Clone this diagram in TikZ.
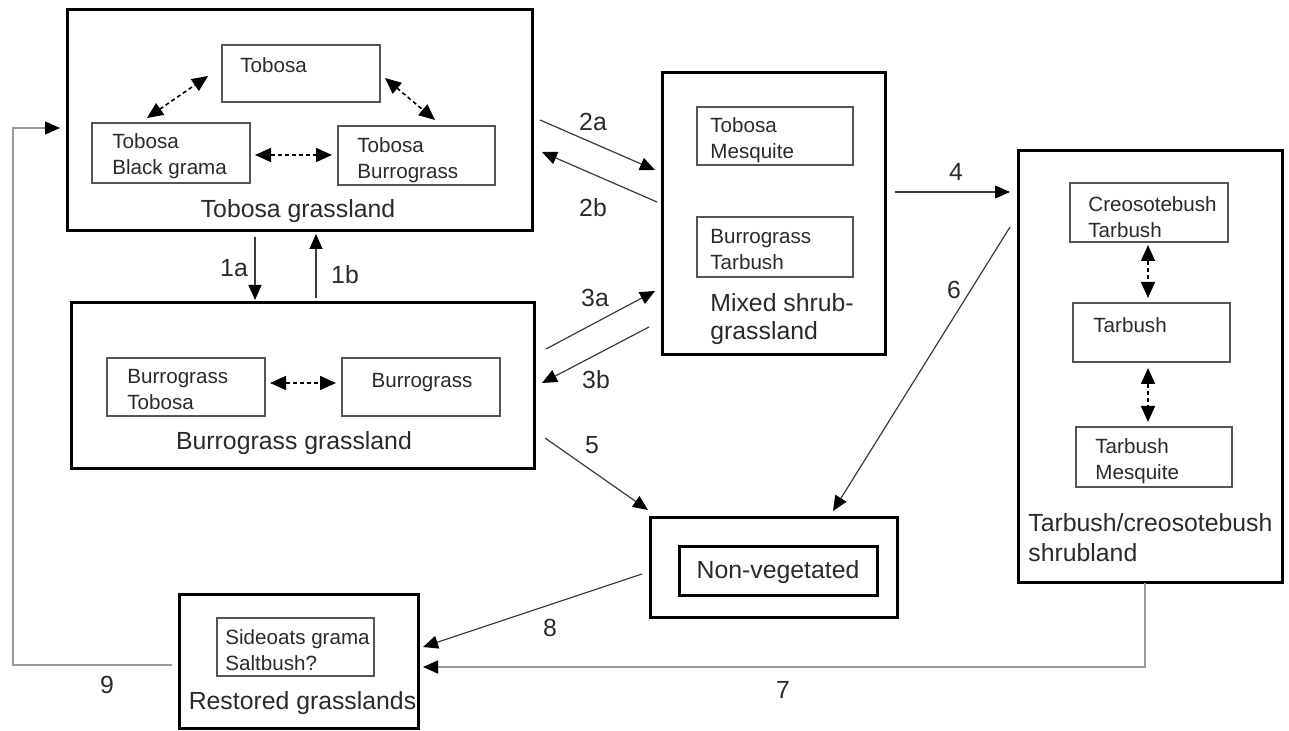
\documentclass[tikz,border=0pt]{standalone}
\usepackage{fontspec}
\setmainfont{Liberation Sans}
\usetikzlibrary{arrows.meta}
\definecolor{ink}{HTML}{2A2A2A}
\definecolor{boxgray}{HTML}{555555}
\definecolor{linegray}{HTML}{3A3A3A}
\definecolor{lightline}{HTML}{9A9A9A}
\tikzset{
  outerbox/.style 2 args={draw=black, line width=1.5pt, minimum width=#1*0.5pt, minimum height=#2*0.5pt, inner sep=0pt},
  innerbox/.style 2 args={draw=boxgray, line width=0.7pt, minimum width=#1*0.5pt, minimum height=#2*0.5pt, inner sep=0pt},
  bigtxt/.style={font=\fontsize{12.4}{14.5}\selectfont, text=ink, inner sep=0pt},
  smalltxt/.style={font=\fontsize{10.3}{13}\selectfont, text=ink, inner sep=0pt, align=left, anchor=west},
  numtxt/.style={font=\fontsize{12.4}{14.5}\selectfont, text=ink, inner sep=0pt},
  flow/.style={draw=linegray, line width=0.6pt, -{Triangle[length=7.5pt,width=6.5pt,color=black]}},
  grayflow/.style={draw=lightline, line width=0.8pt, -{Triangle[length=7.5pt,width=6.5pt,color=black]}},
  swap/.style={draw=black, line width=0.8pt, dash pattern=on 2pt off 1.5pt, {Triangle[length=8pt,width=7pt]}-{Triangle[length=8pt,width=7pt]}}
}
\begin{document}
\begin{tikzpicture}[x=0.5pt,y=-0.5pt]
\useasboundingbox (0,0) rectangle (1289,731);
% ---------- Tobosa grassland ----------
\node[outerbox={465}{221}] (tg) at (299.5,120.5) {};
\node[innerbox={158}{57}] (tob) at (301,73.5) {};
\node[innerbox={158}{60}] (tbg) at (171,153) {};
\node[innerbox={157}{59}] (tbu) at (416.5,155.5) {};
\node[smalltxt] (tobt) at (240,65) {Tobosa};
\node[smalltxt] (tbgt) at (112,156) {Tobosa\\Black grama};
\node[smalltxt] (tbut) at (357,160) {Tobosa\\Burrograss};
\node[bigtxt] (tgl) at (298,211) {Tobosa grassland};
\coordinate (d1a) at (147,118); \coordinate (d1b) at (208,76);
\coordinate (d2a) at (385,78);  \coordinate (d2b) at (435,120);
\coordinate (d3a) at (255,155); \coordinate (d3b) at (332,155);
\draw[swap] (d1a) -- (d1b);
\draw[swap] (d2a) -- (d2b);
\draw[swap] (d3a) -- (d3b);
% ---------- Burrograss grassland ----------
\node[outerbox={463}{166}] (bg) at (302.5,386) {};
\node[innerbox={158}{58}] (bt) at (186,387) {};
\node[innerbox={158}{58}] (bu) at (421,387) {};
\node[smalltxt] (btt) at (127,390) {Burrograss\\Tobosa};
\node[smalltxt, anchor=center] (but) at (422,383) {Burrograss};
\node[bigtxt] (bgl) at (294,443) {Burrograss grassland};
\coordinate (d4a) at (270,383); \coordinate (d4b) at (336,383);
\draw[swap] (d4a) -- (d4b);
% ---------- Mixed shrub-grassland ----------
\node[outerbox={223}{282}] (ms) at (773.5,214) {};
\node[innerbox={156}{58}] (tm) at (775,136) {};
\node[innerbox={156}{60}] (btb) at (775,247) {};
\node[smalltxt] (tmt) at (710,140) {Tobosa\\Mesquite};
\node[smalltxt] (btbt) at (710,250) {Burrograss\\Tarbush};
\node[bigtxt, align=left, anchor=west, font=\fontsize{12.4}{14}\selectfont] (msl) at (710,319) {Mixed shrub-\\grassland};
% ---------- Tarbush/creosotebush shrubland ----------
\node[outerbox={264}{431}] (ts) at (1150,366.5) {};
\node[innerbox={158}{59}] (ct) at (1149,212.5) {};
\node[innerbox={157}{59}] (ta) at (1151.5,332.5) {};
\node[innerbox={156}{60}] (tme) at (1154,457) {};
\node[smalltxt] (ctt) at (1088,217) {Creosotebush\\Tarbush};
\node[smalltxt] (tat) at (1093,325) {Tarbush};
\node[smalltxt] (tmet) at (1095,461) {Tarbush\\Mesquite};
\node[bigtxt, align=left, anchor=west, font=\fontsize{12.4}{15}\selectfont] (tsl) at (1028,538) {Tarbush/creosotebush\\shrubland};
\coordinate (d5a) at (1148,245); \coordinate (d5b) at (1148,298);
\coordinate (d6a) at (1148,368); \coordinate (d6b) at (1148,422);
\draw[swap] (d5a) -- (d5b);
\draw[swap] (d6a) -- (d6b);
% ---------- Non-vegetated ----------
\node[outerbox={247}{100}] (nv) at (773.5,567) {};
\node[outerbox={198}{49}] (nvi) at (778,570.5) {};
\node[bigtxt] (nvt) at (778,572) {Non-vegetated};
% ---------- Restored grasslands ----------
\node[outerbox={239}{134}] (rg) at (298.5,661) {};
\node[innerbox={157}{58}] (sg) at (295.5,647) {};
\node[smalltxt] (sgt) at (225,650) {Sideoats grama\\Saltbush?};
\node[bigtxt] (rgl) at (302.5,703) {Restored grasslands};
% ---------- transitions ----------
\coordinate (a1s) at (255,237); \coordinate (a1e) at (255,300);
\coordinate (b1s) at (316,298); \coordinate (b1e) at (316,234);
\coordinate (a2s) at (540,120); \coordinate (a2e) at (655,170);
\coordinate (b2s) at (657,202); \coordinate (b2e) at (542,152);
\coordinate (a3s) at (546,349); \coordinate (a3e) at (655,291);
\coordinate (b3s) at (649,327); \coordinate (b3e) at (542,383);
\coordinate (t4s) at (895,192); \coordinate (t4e) at (1010,192);
\coordinate (t5s) at (545,438); \coordinate (t5e) at (648,510);
\coordinate (t6s) at (1010,227); \coordinate (t6e) at (833,511);
\coordinate (t7s) at (1145,583); \coordinate (t7e) at (423,667);
\coordinate (t8s) at (642,574); \coordinate (t8e) at (423,647);
\coordinate (t9s) at (172,665); \coordinate (t9c) at (13,128); \coordinate (t9e) at (60,128);
\draw[flow] (a1s) -- (a1e);
\draw[flow] (b1s) -- (b1e);
\draw[flow] (a2s) -- (a2e);
\draw[flow] (b2s) -- (b2e);
\draw[flow] (a3s) -- (a3e);
\draw[flow] (b3s) -- (b3e);
\draw[flow] (t4s) -- (t4e);
\draw[flow] (t5s) -- (t5e);
\draw[flow] (t6s) -- (t6e);
\draw[grayflow] (t7s) |- (t7e);
\draw[flow] (t8s) -- (t8e);
\draw[grayflow] (t9s) -| (t9c) -- (t9e);
% ---------- labels ----------
\node[numtxt] (n1a) at (234,268) {1a};
\node[numtxt] (n1b) at (345,275) {1b};
\node[numtxt] (n2a) at (593,122) {2a};
\node[numtxt] (n2b) at (593,208) {2b};
\node[numtxt] (n3a) at (595,298) {3a};
\node[numtxt] (n3b) at (596,380) {3b};
\node[numtxt] (n4) at (956,172) {4};
\node[numtxt] (n5) at (592,445) {5};
\node[numtxt] (n6) at (954,290) {6};
\node[numtxt] (n7) at (783,690) {7};
\node[numtxt] (n8) at (550,628) {8};
\node[numtxt] (n9) at (107,685) {9};
\end{tikzpicture}
\end{document}
